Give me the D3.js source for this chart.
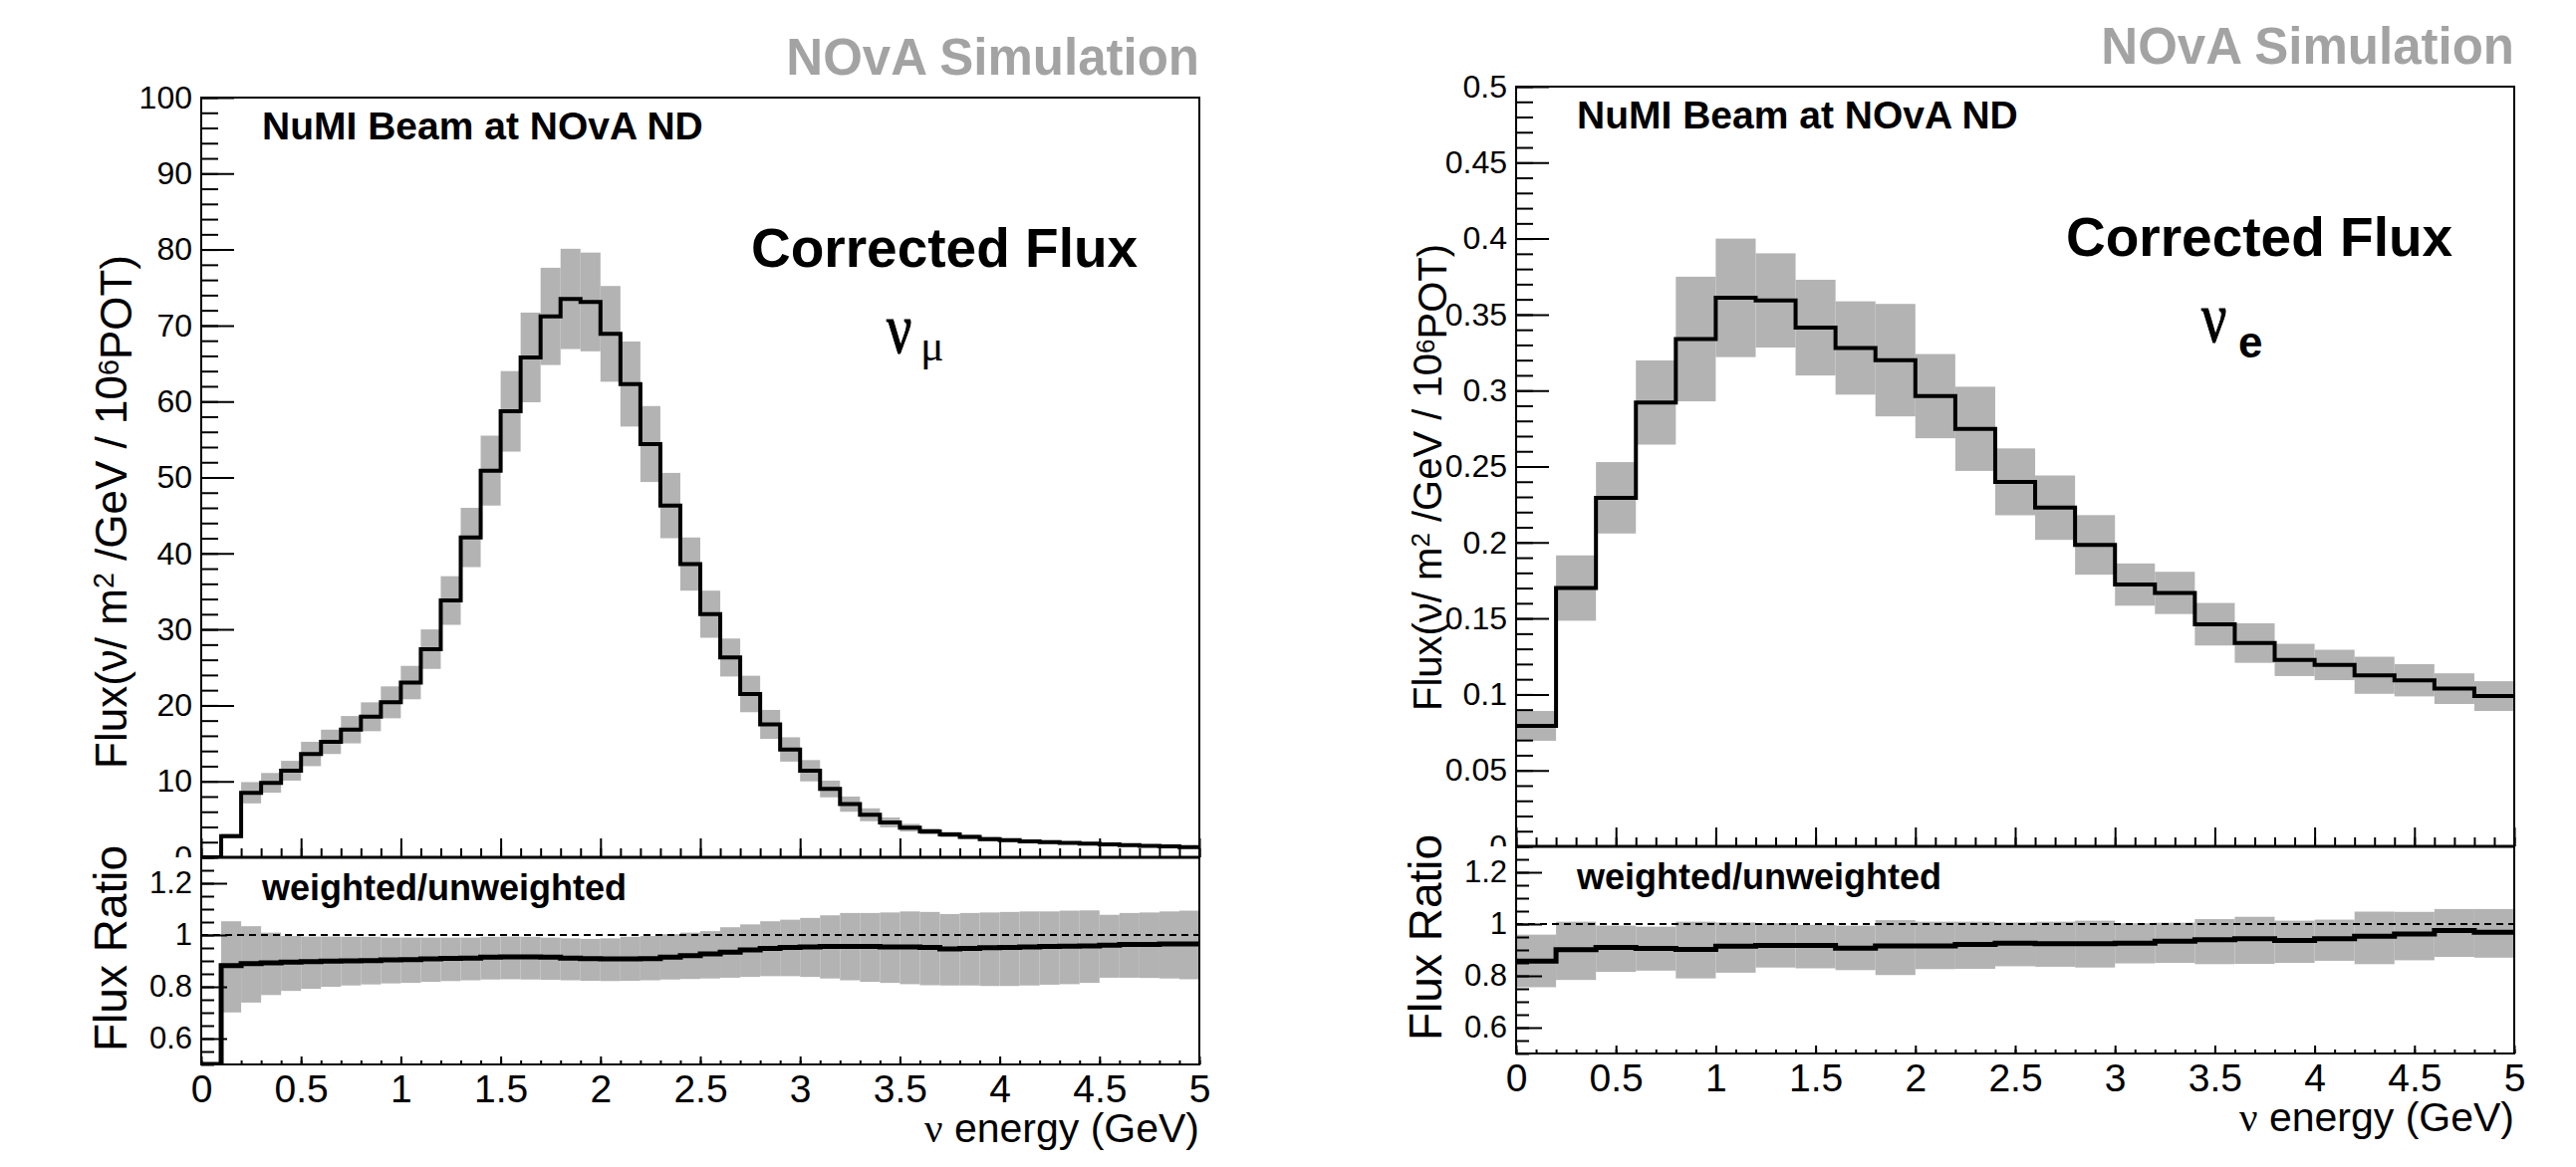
<!DOCTYPE html>
<html>
<head>
<meta charset="utf-8">
<script src="https://cdn.jsdelivr.net/npm/d3@7/dist/d3.min.js"></script>
<style>
  html, body { margin: 0; padding: 0; background: #ffffff; }
  svg { display: block; font-family: 'Liberation Sans', Arial, Helvetica, sans-serif; }
</style>
</head>
<body>
<svg id="flux-chart" width="2586" height="1172"></svg>
<script>
/* -------------------------------------------------------------------------- */
/*                                   Data                                     */
/* -------------------------------------------------------------------------- */

const energyDomain = [0, 5];
const energyTicks = [0, 0.5, 1, 1.5, 2, 2.5, 3, 3.5, 4, 4.5, 5];
const ratioDomain = [0.5, 1.3];
const ratioTicks = [0.6, 0.8, 1, 1.2];

// nu_mu, 0.1 GeV bins
const numuBinWidth = 0.1;
const numuFluxTicks = [0, 10, 20, 30, 40, 50, 60, 70, 80, 90, 100];
const numuFlux = [
  0, 2.8, 8.5, 9.8, 11.4, 13.6, 15.2, 16.8, 18.5, 20.4,
  23.0, 27.4, 33.8, 42.1, 50.9, 58.7, 65.8, 71.2, 73.5, 73.1,
  68.9, 62.3, 54.4, 46.3, 38.6, 32.0, 26.3, 21.5, 17.5, 14.2,
  11.4, 9.0, 7.0, 5.6, 4.6, 3.9, 3.4, 3.0, 2.7, 2.4,
  2.25, 2.1, 2.0, 1.9, 1.8, 1.7, 1.6, 1.5, 1.45, 1.35,
];
const numuFluxErr = [
  0, 0.3, 1.4, 1.3, 1.3, 1.6, 1.6, 1.8, 1.9, 2.1,
  2.2, 2.6, 3.2, 3.9, 4.6, 5.3, 5.9, 6.4, 6.6, 6.5,
  6.3, 5.6, 5.0, 4.3, 3.5, 3.1, 2.5, 2.4, 1.9, 1.6,
  1.4, 1.1, 1.0, 0.85, 0.65, 0.5, 0.4, 0.35, 0.3, 0.3,
  0.25, 0.25, 0.25, 0.2, 0.2, 0.2, 0.2, 0.2, 0.2, 0.2,
];
const numuRatio = [
  0, 0.882, 0.889, 0.892, 0.895, 0.897, 0.899, 0.900, 0.901, 0.904,
  0.905, 0.908, 0.910, 0.911, 0.914, 0.915, 0.915, 0.914, 0.911, 0.909,
  0.908, 0.908, 0.909, 0.914, 0.920, 0.927, 0.934, 0.942, 0.948, 0.952,
  0.954, 0.956, 0.956, 0.956, 0.954, 0.954, 0.952, 0.946, 0.948, 0.951,
  0.952, 0.954, 0.956, 0.957, 0.958, 0.961, 0.963, 0.963, 0.965, 0.965,
];
const numuRatioHi = [
  0, 1.053, 1.034, 1.009, 0.996, 0.994, 0.994, 0.993, 0.993, 0.990,
  0.990, 0.990, 0.990, 0.990, 0.993, 0.994, 0.993, 0.990, 0.987, 0.985,
  0.987, 0.993, 0.996, 1.003, 1.009, 1.015, 1.030, 1.041, 1.053, 1.059,
  1.066, 1.076, 1.085, 1.085, 1.087, 1.091, 1.089, 1.081, 1.085, 1.087,
  1.089, 1.091, 1.091, 1.094, 1.095, 1.078, 1.085, 1.087, 1.091, 1.094,
];
const numuRatioLo = [
  0, 0.701, 0.739, 0.768, 0.784, 0.792, 0.800, 0.805, 0.809, 0.813,
  0.815, 0.819, 0.822, 0.825, 0.828, 0.829, 0.828, 0.827, 0.825, 0.823,
  0.822, 0.823, 0.825, 0.828, 0.830, 0.832, 0.835, 0.838, 0.841, 0.841,
  0.838, 0.832, 0.825, 0.819, 0.815, 0.810, 0.806, 0.805, 0.805, 0.803,
  0.803, 0.805, 0.808, 0.810, 0.815, 0.835, 0.835, 0.834, 0.832, 0.829,
];

// nu_e, 0.2 GeV bins
const nueBinWidth = 0.2;
const nueFluxTicks = [0, 0.05, 0.1, 0.15, 0.2, 0.25, 0.3, 0.35, 0.4, 0.45, 0.5];
const nueFlux = [
  0.0793, 0.170, 0.2294, 0.2921, 0.3339, 0.361, 0.3593, 0.3414, 0.328, 0.320,
  0.2963, 0.2748, 0.2399, 0.2229, 0.1984, 0.1723, 0.1668, 0.1462, 0.1338, 0.1227,
  0.1194, 0.1126, 0.1093, 0.1038, 0.0989,
];
const nueFluxErr = [
  0.0098, 0.0215, 0.0235, 0.0277, 0.041, 0.039, 0.031, 0.0315, 0.0307, 0.037,
  0.0277, 0.0277, 0.022, 0.0212, 0.0196, 0.0139, 0.0139, 0.014, 0.013, 0.0106,
  0.010, 0.0122, 0.0106, 0.0101, 0.0098,
];
const nueRatio = [
  0.857, 0.901, 0.910, 0.906, 0.902, 0.914, 0.917, 0.917, 0.907, 0.915,
  0.915, 0.921, 0.926, 0.924, 0.924, 0.926, 0.934, 0.939, 0.943, 0.937,
  0.943, 0.953, 0.962, 0.975, 0.968,
];
const nueRatioHi = [
  0.959, 1.009, 0.994, 0.990, 1.009, 1.006, 1.003, 0.997, 0.994, 1.015,
  1.009, 1.009, 1.006, 1.009, 1.013, 1.003, 1.005, 1.019, 1.028, 1.013,
  1.017, 1.048, 1.047, 1.058, 1.058,
];
const nueRatioLo = [
  0.756, 0.784, 0.815, 0.820, 0.790, 0.812, 0.832, 0.829, 0.822, 0.803,
  0.826, 0.827, 0.837, 0.835, 0.832, 0.848, 0.850, 0.845, 0.846, 0.850,
  0.858, 0.845, 0.860, 0.873, 0.870,
];

/* -------------------------------------------------------------------------- */
/*                                  Chart                                     */
/* -------------------------------------------------------------------------- */

const svg = d3.select('#flux-chart');

const styles = {
  band: '#b3b3b3',
  line: '#000000',
  watermark: '#a3a3a3',
  labelSize: '32px',
  ratioLabelSize: '31px',
  xLabelSize: '39px',
};

const serif = "'Liberation Serif', 'Times New Roman', serif";
const fmt = (v) => String(+v.toFixed(2));

const styleAxis = (sel, fontSize) => {
  sel.select('.domain').remove();
  sel.selectAll('.tick line').attr('stroke', '#000').attr('stroke-width', 2);
  sel
    .selectAll('.tick text')
    .attr('fill', '#000')
    .style('font-size', fontSize)
    .style('font-family', "'Liberation Sans', Arial, sans-serif");
};

const stepPath = (vals, bw, xs, ys) =>
  d3.line()(vals.flatMap((v, i) => [[xs(i * bw), ys(v)], [xs((i + 1) * bw), ys(v)]]));

const drawPanel = (cfg) => {
  const w = 1002;
  const hTop = 763;
  const hRatio = 208;
  const g = svg.append('g').attr('transform', `translate(${cfg.left},${cfg.top})`);

  const x = d3.scaleLinear().domain(energyDomain).range([0, w]);
  const y = d3.scaleLinear().domain(cfg.fluxDomain).range([hTop, 0]);
  const yr = d3.scaleLinear().domain(ratioDomain).range([hTop + hRatio, hTop]).clamp(true);

  // clip paths
  const defs = g.append('defs');
  defs.append('clipPath').attr('id', `${cfg.id}-top`)
    .append('rect').attr('width', w).attr('height', hTop);
  defs.append('clipPath').attr('id', `${cfg.id}-ratio`)
    .append('rect').attr('y', hTop).attr('width', w).attr('height', hRatio);
  defs.append('clipPath').attr('id', `${cfg.id}-labels`)
    .append('rect').attr('x', -200).attr('y', -60).attr('width', w + 200).attr('height', hTop + 60);

  // upper pad: flux
  const topG = g.append('g').attr('clip-path', `url(#${cfg.id}-top)`);
  topG.selectAll('rect.band')
    .data(cfg.flux)
    .enter()
    .append('rect')
    .attr('class', 'band')
    .attr('x', (d, i) => x(i * cfg.binWidth))
    .attr('width', x(cfg.binWidth) - x(0))
    .attr('y', (d, i) => y(d + cfg.fluxErr[i]))
    .attr('height', (d, i) => y(d - cfg.fluxErr[i]) - y(d + cfg.fluxErr[i]))
    .style('fill', styles.band);
  topG.append('path')
    .attr('d', stepPath(cfg.flux, cfg.binWidth, x, y))
    .attr('fill', 'none')
    .attr('stroke', styles.line)
    .attr('stroke-width', 4);

  // lower pad: ratio
  const ratioG = g.append('g').attr('clip-path', `url(#${cfg.id}-ratio)`);
  ratioG.selectAll('rect.band')
    .data(cfg.ratio)
    .enter()
    .append('rect')
    .attr('class', 'band')
    .attr('x', (d, i) => x(i * cfg.binWidth))
    .attr('width', x(cfg.binWidth) - x(0))
    .attr('y', (d, i) => yr(cfg.ratioHi[i]))
    .attr('height', (d, i) => (d > 0 ? yr(cfg.ratioLo[i]) - yr(cfg.ratioHi[i]) : 0))
    .style('fill', styles.band);
  ratioG.append('line')
    .attr('x1', 0).attr('x2', w)
    .attr('y1', yr(1)).attr('y2', yr(1))
    .attr('stroke', '#000')
    .attr('stroke-width', 2)
    .attr('stroke-dasharray', '7,5');
  ratioG.append('path')
    .attr('d', stepPath(cfg.ratio, cfg.binWidth, x, yr))
    .attr('fill', 'none')
    .attr('stroke', styles.line)
    .attr('stroke-width', 5);

  // flux axes
  const fluxMinor = d3.range(cfg.fluxDomain[0], cfg.fluxDomain[1] + 1e-9, cfg.fluxMinorStep);
  g.append('g')
    .call(d3.axisLeft(y).tickValues(fluxMinor).tickSizeInner(-17).tickSizeOuter(0).tickFormat(''))
    .call(styleAxis, styles.labelSize);
  g.append('g')
    .attr('clip-path', `url(#${cfg.id}-labels)`)
    .call(d3.axisLeft(y).tickValues(cfg.fluxTicks).tickSizeInner(-33).tickSizeOuter(0)
      .tickPadding(9).tickFormat(fmt))
    .call(styleAxis, styles.labelSize);

  const eMinor = d3.range(0, 5.0001, 0.1);
  g.append('g')
    .attr('transform', `translate(0,${hTop})`)
    .call(d3.axisBottom(x).tickValues(eMinor).tickSizeInner(-9).tickSizeOuter(0).tickFormat(''))
    .call(styleAxis, styles.labelSize);
  g.append('g')
    .attr('transform', `translate(0,${hTop})`)
    .call(d3.axisBottom(x).tickValues(energyTicks).tickSizeInner(-19).tickSizeOuter(0).tickFormat(''))
    .call(styleAxis, styles.labelSize);

  // ratio axes
  g.append('g')
    .call(d3.axisLeft(yr).tickValues(d3.range(0.5, 1.30001, 0.05)).tickSizeInner(-13)
      .tickSizeOuter(0).tickFormat(''))
    .call(styleAxis, styles.ratioLabelSize);
  g.append('g')
    .call(d3.axisLeft(yr).tickValues(ratioTicks).tickSizeInner(-26).tickSizeOuter(0)
      .tickPadding(9).tickFormat(fmt))
    .call(styleAxis, styles.ratioLabelSize);
  g.append('g')
    .attr('transform', `translate(0,${hTop + hRatio})`)
    .call(d3.axisBottom(x).tickValues(eMinor).tickSizeInner(-4).tickSizeOuter(0).tickFormat(''))
    .call(styleAxis, styles.xLabelSize);
  g.append('g')
    .attr('transform', `translate(0,${hTop + hRatio})`)
    .call(d3.axisBottom(x).tickValues(energyTicks).tickSizeInner(-8).tickSizeOuter(0)
      .tickPadding(10).tickFormat(fmt))
    .call(styleAxis, styles.xLabelSize);

  // frames
  g.append('rect')
    .attr('width', w)
    .attr('height', hTop + hRatio)
    .attr('fill', 'none')
    .attr('stroke', '#000')
    .attr('stroke-width', 2);
  g.append('line')
    .attr('x1', 0).attr('x2', w)
    .attr('y1', hTop).attr('y2', hTop)
    .attr('stroke', '#000')
    .attr('stroke-width', 3);

  // texts
  g.append('text')
    .attr('x', w)
    .attr('y', -23)
    .attr('text-anchor', 'end')
    .style('font-size', '51px')
    .style('font-weight', 700)
    .style('fill', styles.watermark)
    .text('NOvA Simulation');
  g.append('text')
    .attr('x', 61)
    .attr('y', 42)
    .style('font-size', '39px')
    .style('font-weight', 700)
    .text('NuMI Beam at NOvA ND');
  g.append('text')
    .attr('x', 552)
    .attr('y', 170)
    .style('font-size', '55px')
    .style('font-weight', 700)
    .text('Corrected Flux');
  g.append('text')
    .attr('transform', 'translate(688,256) scale(0.78,1)')
    .style('font-family', serif)
    .style('font-size', '72px')
    .style('stroke', '#000')
    .style('stroke-width', 1.2)
    .text('ν');
  const sub = g.append('text')
    .attr('x', cfg.subX)
    .attr('y', cfg.subY)
    .style('font-size', cfg.subSize)
    .text(cfg.subText);
  if (cfg.subSerif) sub.style('font-family', serif);
  else sub.style('font-weight', 700);

  g.append('text')
    .attr('x', 61)
    .attr('y', hTop + 43)
    .style('font-size', '36px')
    .style('font-weight', 700)
    .text('weighted/unweighted');

  // axis titles
  const xTitle = g.append('text')
    .attr('x', w)
    .attr('y', hTop + hRatio + 78)
    .attr('text-anchor', 'end')
    .style('font-size', '41px');
  xTitle.append('tspan').style('font-family', serif).text('ν');
  xTitle.append('tspan').text(' energy (GeV)');

  const yTitle = g.append('text')
    .attr('transform', `translate(-75,158) rotate(-90)`)
    .attr('text-anchor', 'end')
    .style('font-size', cfg.titleSize);
  yTitle.append('tspan').text('Flux(ν/ m');
  yTitle.append('tspan').attr('dy', '-0.45em').style('font-size', '0.65em').text('2');
  yTitle.append('tspan').attr('dy', '0.3em').text(' /GeV / 10');
  yTitle.append('tspan').attr('dy', '-0.3em').style('font-size', '0.65em').text('6');
  yTitle.append('tspan').attr('dy', '0.3em').text('POT)');

  g.append('text')
    .attr('transform', `translate(-75,${hTop + 195}) rotate(-90)`)
    .style('font-size', '46px')
    .text('Flux Ratio');
};

drawPanel({
  id: 'numu',
  left: 202,
  top: 98,
  binWidth: numuBinWidth,
  fluxDomain: [0, 100],
  fluxMinorStep: 2,
  fluxTicks: numuFluxTicks,
  flux: numuFlux,
  fluxErr: numuFluxErr,
  ratio: numuRatio,
  ratioHi: numuRatioHi,
  ratioLo: numuRatioLo,
  titleSize: '44px',
  subText: 'μ',
  subX: 722,
  subY: 264,
  subSize: '44px',
  subSerif: true,
});

drawPanel({
  id: 'nue',
  left: 1522,
  top: 87,
  binWidth: nueBinWidth,
  fluxDomain: [0, 0.5],
  fluxMinorStep: 0.01,
  fluxTicks: nueFluxTicks,
  flux: nueFlux,
  fluxErr: nueFluxErr,
  ratio: nueRatio,
  ratioHi: nueRatioHi,
  ratioLo: nueRatioLo,
  titleSize: '40px',
  subText: 'e',
  subX: 725,
  subY: 272,
  subSize: '44px',
  subSerif: false,
});
</script>
</body>
</html>
